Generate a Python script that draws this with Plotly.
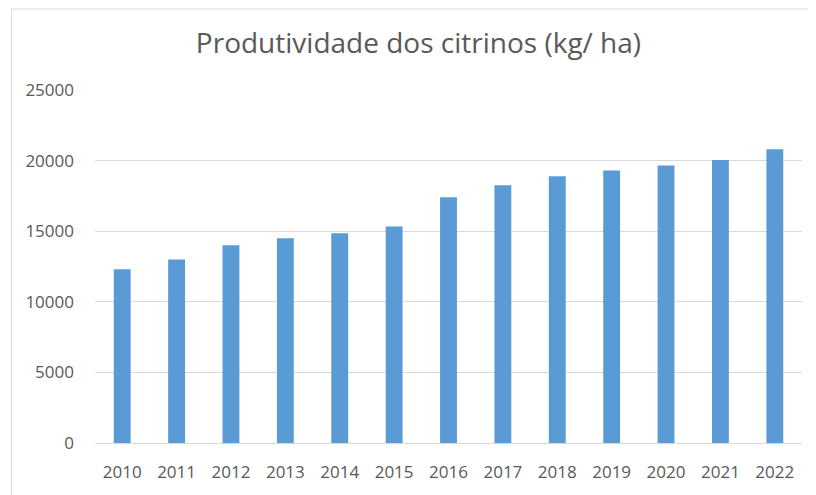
import plotly.graph_objects as go

years = ["2010", "2011", "2012", "2013", "2014", "2015", "2016",
         "2017", "2018", "2019", "2020", "2021", "2022"]
productivity = [12300, 13000, 14000, 14500, 14850, 15330, 17400,
                18250, 18900, 19300, 19650, 20050, 20800]
y_ticks = [0, 5000, 10000, 15000, 20000, 25000]

title_text = "Produtividade dos citrinos (kg/ ha)"
font_family = "Open Sans, Roboto, Liberation Sans, sans-serif"

fig = go.Figure()
fig.add_trace(go.Bar(
    x=years, y=productivity,
    marker=dict(color="#5B9BD5", line=dict(width=0)),
    hoverinfo="x+y",
))

W, H = 808, 487
L, R, T, B = 87, 14, 82, 50
pw, ph = W - L - R, H - T - B

bx0 = (3.5 - L) / pw
by1 = (H - B - 0.5) / ph

fig.update_layout(
    width=W, height=H,
    margin=dict(l=L, r=R, t=T, b=B),
    paper_bgcolor="white", plot_bgcolor="white",
    bargap=0.69,
    showlegend=False,
    title=dict(text=title_text, x=410.5 / W, xref="container", xanchor="center",
               y=1 - 35 / H, yanchor="middle",
               font=dict(family=font_family, size=28, color="#595959")),
    font=dict(family=font_family, size=17, color="#595959"),
    xaxis=dict(
        type="category", showgrid=False,
        showline=True, linecolor="#d9d9d9", linewidth=1,
        ticks="", ticklabelstandoff=14,
        tickfont=dict(size=17, color="#595959"),
    ),
    yaxis=dict(
        range=[0, 25000], tickvals=y_ticks,
        ticktext=[str(v) for v in y_ticks],
        showgrid=True, gridcolor="#d9d9d9", gridwidth=1,
        zeroline=False, showline=False, ticks="",
        ticklabelstandoff=20,
        tickfont=dict(size=17, color="#595959"),
    ),
    shapes=[
        dict(type="line", xref="paper", yref="paper",
             x0=bx0, x1=1.2, y0=by1, y1=by1,
             line=dict(color="#d9d9d9", width=1), layer="below"),
        dict(type="line", xref="paper", yref="paper",
             x0=bx0, x1=bx0, y0=-0.3, y1=by1,
             line=dict(color="#d9d9d9", width=1), layer="below"),
    ],
)

fig.write_html("out.html")
